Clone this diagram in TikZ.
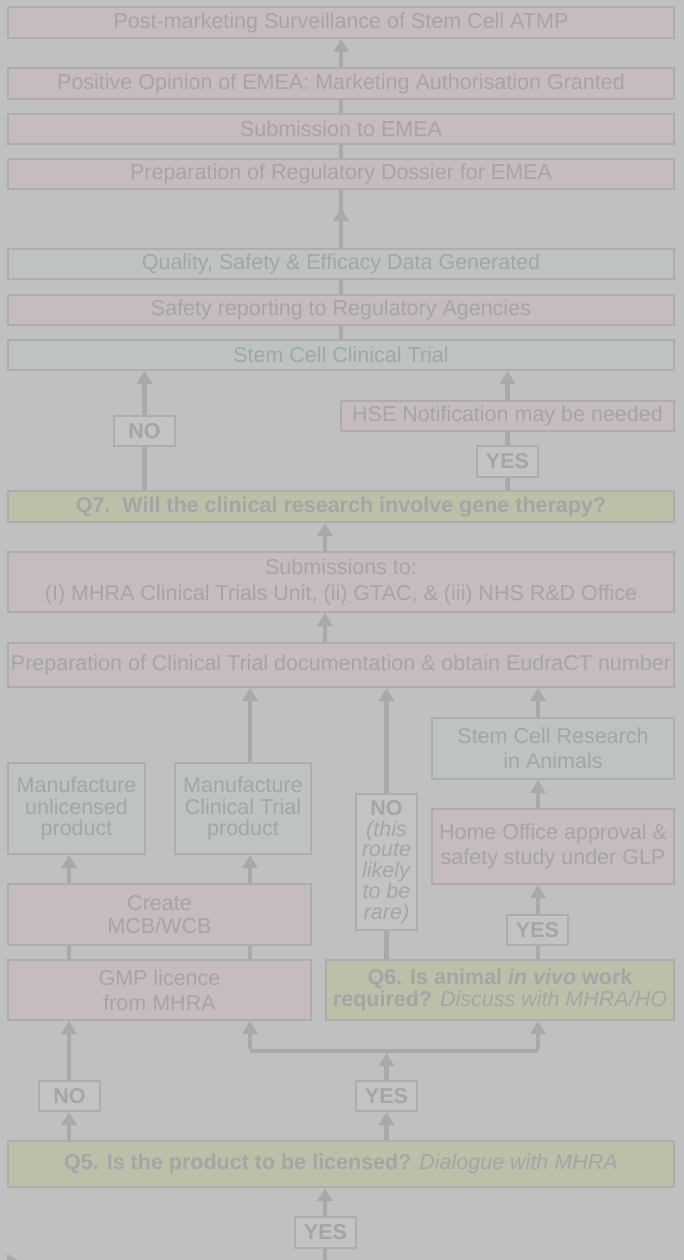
\documentclass[tikz,border=0pt]{standalone}
\usepackage{fontspec}
\setmainfont{Liberation Sans}
\usetikzlibrary{arrows.meta,calc}
\definecolor{bg}{HTML}{C0C0C0}
\definecolor{pinkf}{HTML}{C6BBC0}
\definecolor{bluef}{HTML}{BDC2C3}
\definecolor{greenf}{HTML}{BBC0A9}
\definecolor{bord}{HTML}{ADADAD}
\definecolor{txt}{HTML}{A5A5A5}
\definecolor{lnc}{HTML}{A9A9A9}
\definecolor{lblf}{HTML}{C3C3C3}
\begin{document}
\begin{tikzpicture}[x=1pt,y=-1pt,
  box/.style={draw=bord, line width=2pt, text=txt, align=center, inner sep=0pt,
    font=\fontsize{21.5}{25}\selectfont},
  pinkbox/.style={box, fill=pinkf},
  bluebox/.style={box, fill=bluef},
  greenbox/.style={box, fill=greenf},
  lbl/.style={box, fill=lblf, font=\fontsize{21.5}{25}\selectfont\bfseries,
    minimum width=61pt, minimum height=30pt},
  ln/.style={draw=lnc, line width=4.5pt},
  arr/.style={ln, -{Triangle[width=15pt,length=13pt]}}
]
\fill[bg] (0,0) rectangle (684,1260);
\useasboundingbox (0,0) rectangle (684,1260);

% column coordinates
\coordinate (X69) at (69,0);
\coordinate (X144) at (144.5,0);
\coordinate (X250) at (250,0);
\coordinate (X325) at (325,0);
\coordinate (X341) at (341,0);
\coordinate (X386) at (386.5,0);
\coordinate (X507) at (507.5,0);
\coordinate (X538) at (538,0);

% top chain
\node[pinkbox, minimum width=666pt, minimum height=31pt] (post) at (341,22.5) {Post-marketing Surveillance of Stem Cell ATMP};
\node[pinkbox, minimum width=666pt, minimum height=31pt] (pos) at (341,83.5) {Positive Opinion of EMEA: Marketing Authorisation Granted};
\node[pinkbox, minimum width=666pt, minimum height=30pt] (sub) at (341,129) {Submission to EMEA};
\node[pinkbox, minimum width=666pt, minimum height=30pt] (prepreg) at (341,174) {Preparation of Regulatory Dossier for EMEA};
\node[bluebox, minimum width=666pt, minimum height=30pt] (qual) at (341,264) {Quality, Safety \& Efficacy Data Generated};
\node[pinkbox, minimum width=666pt, minimum height=30pt] (safe) at (341,310) {Safety reporting to Regulatory Agencies};
\node[bluebox, minimum width=666pt, minimum height=30pt] (trial) at (341,355) {Stem Cell Clinical Trial};

\node[lbl] (no7) at (144.5,431) {NO};
\node[pinkbox, minimum width=333pt, minimum height=30pt] (hse) at (507.5,416) {HSE Notification may be needed};
\node[lbl, minimum height=31pt] (yes7) at (507.5,461.5) {YES};
\node[greenbox, minimum width=666pt, minimum height=31pt] (q7) at (341,506.5) {\textbf{Q7.\ \ Will the clinical research involve gene therapy?}};

\node[pinkbox, minimum width=666pt, minimum height=60pt, font=\fontsize{21.5}{26}\selectfont] (subs) at (341,582) {Submissions to:\\(I) MHRA Clinical Trials Unit, (ii) GTAC, \& (iii) NHS R\&D Office};
\node[pinkbox, minimum width=666pt, minimum height=44pt] (prepct) at (341,665) {Preparation of Clinical Trial documentation \& obtain EudraCT number};

% middle section
\node[bluebox, minimum width=242pt, minimum height=61pt] (scra) at (553,748.5) {Stem Cell Research\\in Animals};
\node[bluebox, minimum width=137pt, minimum height=91pt, font=\fontsize{21.5}{21.7}\selectfont] (mu) at (76.5,808.5) {Manufacture\\unlicensed\\product};
\node[bluebox, minimum width=136pt, minimum height=91pt, font=\fontsize{21.5}{21.7}\selectfont] (mct) at (243,808.5) {Manufacture\\Clinical Trial\\product};
\node[lbl, minimum height=136pt, font=\fontsize{21.5}{20.7}\selectfont] (norare) at (386.5,862) {\textbf{NO}\\\textit{\mdseries(this}\\\textit{\mdseries route}\\\textit{\mdseries likely}\\\textit{\mdseries to be}\\\textit{\mdseries rare)}};
\node[pinkbox, minimum width=242pt, minimum height=75pt] (ho) at (553,846.5) {Home Office approval \&\\safety study under GLP};
\node[lbl] (yes6) at (537.5,930) {YES};
\node[greenbox, minimum width=348pt, minimum height=60pt, font=\fontsize{21.5}{21.5}\selectfont] (q6) at (500,990) {\textbf{Q6. Is animal \textit{in vivo} work}\\\textbf{required?} \textit{Discuss with MHRA/HO}};
\node[pinkbox, minimum width=303pt, minimum height=61pt, font=\fontsize{21.5}{22.3}\selectfont] (create) at (159.5,914.5) {Create\\MCB/WCB};
\node[pinkbox, minimum width=303pt, minimum height=60pt] (gmp) at (159.5,990) {GMP licence\\from MHRA};

% bottom
\node[lbl] (no5) at (69.5,1096) {NO};
\node[lbl] (yes5) at (386.5,1096) {YES};
\node[greenbox, minimum width=666pt, minimum height=46pt] (q5) at (341,1164) {\textbf{Q5. Is the product to be licensed?} \textit{Dialogue with MHRA}};
\node[lbl, minimum height=31pt] (yesb) at (325.5,1232.5) {YES};
\coordinate (bottom) at (325.5,1260);
\coordinate (brk) at (386.5,1051);

% connectors top chain
\draw[arr] (pos.north -| X341) -- (post.south -| X341);
\draw[ln] (sub.north -| X341) -- (pos.south -| X341);
\draw[ln] (prepreg.north -| X341) -- (sub.south -| X341);
\draw[ln] (qual.north -| X341) -- (prepreg.south -| X341);
\draw[arr] (qual.north -| X341) -- ++(0,-40);
\draw[ln] (safe.north -| X341) -- (qual.south -| X341);
\draw[ln] (trial.north -| X341) -- (safe.south -| X341);

% Q7
\draw[ln] (q7.north -| X144) -- (no7.south);
\draw[arr] (no7.north) -- (trial.south -| X144);
\draw[ln] (q7.north -| X507) -- (yes7.south);
\draw[ln] (yes7.north) -- (hse.south -| X507);
\draw[arr] (hse.north -| X507) -- (trial.south -| X507);
\draw[arr] (subs.north -| X325) -- (q7.south -| X325);
\draw[arr] (prepct.north -| X325) -- (subs.south -| X325);

% middle
\draw[arr] (mct.north -| X250) -- (prepct.south -| X250);
\draw[arr] (norare.north) -- (prepct.south -| X386);
\draw[arr] (scra.north -| X538) -- (prepct.south -| X538);
\draw[arr] (ho.north -| X538) -- (scra.south -| X538);
\draw[arr] (yes6.north -| X538) -- (ho.south -| X538);
\draw[ln] (q6.north -| X538) -- (yes6.south -| X538);
\draw[ln] (q6.north -| X386) -- (norare.south);
\draw[arr] (create.north -| X69) -- (mu.south -| X69);
\draw[arr] (create.north -| X250) -- (mct.south -| X250);
\draw[ln] (gmp.north -| X69) -- (create.south -| X69);
\draw[ln] (gmp.north -| X250) -- (create.south -| X250);

% bottom
\draw[arr] (no5.north -| X69) -- (gmp.south -| X69);
\draw[ln] (brk -| X250) -- (brk -| X538);
\draw[arr] ([yshift=2.25pt]brk -| X250) -- (gmp.south -| X250);
\draw[arr] ([yshift=2.25pt]brk -| X538) -- (q6.south -| X538);
\draw[arr] (yes5.north) -- ([yshift=-2pt]brk);
\draw[arr] (q5.north -| X69) -- (no5.south -| X69);
\draw[arr] (q5.north -| X386) -- (yes5.south);
\draw[arr] (yesb.north -| X325) -- (q5.south -| X325);
\draw[ln] (bottom -| X325) -- (yesb.south -| X325);
\fill[lnc] (7,1254) -- (18,1260) -- (7,1260) -- cycle;
\end{tikzpicture}
\end{document}
